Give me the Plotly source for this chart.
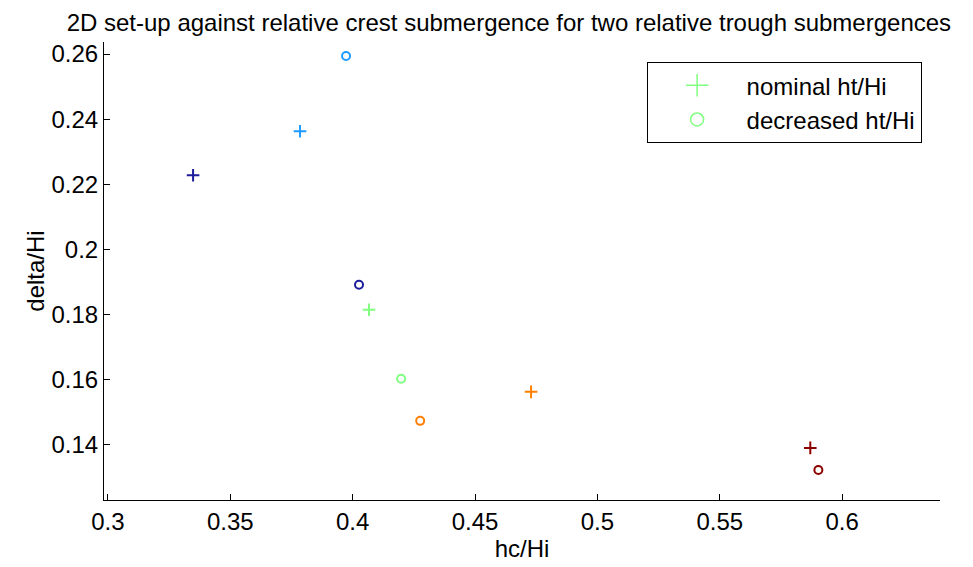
import plotly.graph_objects as go

# data: five colour groups, each with nominal (+) and decreased (o) trough submergence
colors = ["#1c1c9c", "#1e9bff", "#80ff80", "#ff8000", "#8c0000"]
hc_nominal = [0.3348, 0.3785, 0.4067, 0.4729, 0.5870]
delta_nominal = [0.2228, 0.2363, 0.1815, 0.1563, 0.1391]
hc_decreased = [0.4026, 0.3973, 0.4198, 0.4276, 0.5903]
delta_decreased = [0.1892, 0.2594, 0.1603, 0.1474, 0.1323]

x_ticks = [0.3, 0.35, 0.4, 0.45, 0.5, 0.55, 0.6]
x_tick_labels = ["0.3", "0.35", "0.4", "0.45", "0.5", "0.55", "0.6"]
y_ticks = [0.14, 0.16, 0.18, 0.2, 0.22, 0.24, 0.26]
y_tick_labels = ["0.14", "0.16", "0.18", "0.2", "0.22", "0.24", "0.26"]

FONT = "Liberation Sans"
FS = 24
fig = go.Figure()

for i, c in enumerate(colors):
    fig.add_trace(go.Scatter(
        x=[hc_nominal[i]], y=[delta_nominal[i]], mode="markers",
        marker=dict(symbol="cross-thin-open", size=9, color=c, line=dict(color=c, width=2)),
        name="nominal ht/Hi", showlegend=False))
    fig.add_trace(go.Scatter(
        x=[hc_decreased[i]], y=[delta_decreased[i]], mode="markers",
        marker=dict(symbol="circle-open", size=8, color=c, line=dict(color=c, width=2)),
        name="decreased ht/Hi", showlegend=False))

# legend entries (green)
fig.add_trace(go.Scatter(x=[None], y=[None], mode="markers",
                         marker=dict(symbol="cross-thin-open", size=16, color=colors[2],
                                     line=dict(color=colors[2], width=1.5)),
                         name="nominal ht/Hi"))
fig.add_trace(go.Scatter(x=[None], y=[None], mode="markers",
                         marker=dict(symbol="circle-open", size=13, color=colors[2],
                                     line=dict(color=colors[2], width=1.5)),
                         name="decreased ht/Hi"))

fig.update_layout(
    width=973, height=567,
    paper_bgcolor="white", plot_bgcolor="white",
    margin=dict(l=104, r=33, t=42, b=67),
    font=dict(family=FONT, size=FS, color="black"),
    title=dict(text="2D set-up against relative crest submergence for two relative trough submergences",
               x=0.523, xanchor="center", y=0.961, yanchor="middle",
               font=dict(family=FONT, size=FS, color="black")),
    showlegend=True,
    legend=dict(x=0.978, xanchor="right", y=0.956, yanchor="top",
                bordercolor="black", borderwidth=1, bgcolor="white",
                font=dict(family=FONT, size=FS, color="black"),
                itemwidth=89, tracegroupgap=0),
)
fig.update_xaxes(range=[0.2984, 0.64], tickvals=x_ticks, ticktext=x_tick_labels,
                 showgrid=False, zeroline=False, showline=True, linecolor="black", linewidth=1,
                 ticks="inside", ticklen=6, tickcolor="black", mirror=False,
                 title=dict(text="hc/Hi", font=dict(family=FONT, size=FS), standoff=4))
fig.update_yaxes(range=[0.1231, 0.2637], tickvals=y_ticks, ticktext=y_tick_labels,
                 showgrid=False, zeroline=False, showline=True, linecolor="black", linewidth=1,
                 ticks="inside", ticklen=6, tickcolor="black", mirror=False,
                 title=dict(text="delta/Hi", font=dict(family=FONT, size=FS), standoff=0))

fig.write_html("out.html")
